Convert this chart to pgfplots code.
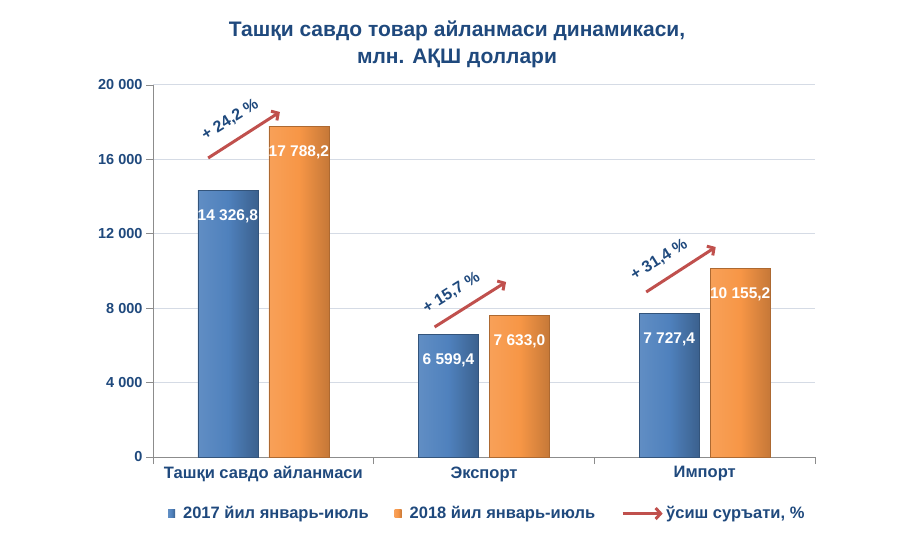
\documentclass[border=0pt]{standalone}
\usepackage{pgfplots}
\pgfplotsset{compat=1.18}
\usepackage{fontspec}
\setmainfont{Liberation Sans}
\usetikzlibrary{arrows.meta}

\definecolor{titleblue}{HTML}{1F497D}
\definecolor{barblue}{HTML}{4F81BD}
\definecolor{barorange}{HTML}{F79646}
\definecolor{arrowred}{HTML}{C0504D}
\definecolor{gridgray}{HTML}{D5DBE5}
\definecolor{axisgray}{HTML}{8C8C8C}

\tikzset{
    growth arrow/.style={arrowred, line width=3pt, -{Straight Barb[length=5pt, width=11pt]}},
}
\pgfplotsset{
    bar2017/.style={ybar, bar width=60pt, bar shift=0pt, draw=barblue!65!black, line width=0.6pt,
        left color=barblue!90!white, right color=barblue!75!black, middle color=barblue,
        nodes near coords, point meta=explicit symbolic,
        legend image code/.code={\path[draw=none] (0pt,0pt) -- (13pt,0pt);
            \fill[barblue, draw=none] (0pt,-4pt) rectangle (7pt,4pt);}},
    bar2018/.style={ybar, bar width=60pt, bar shift=0pt, draw=barorange!70!black, line width=0.6pt,
        left color=barorange!90!white, right color=barorange!80!black, middle color=barorange,
        nodes near coords, point meta=explicit symbolic,
        legend image code/.code={\path[draw=none] (0pt,0pt) -- (13pt,0pt);
            \fill[barorange, draw=none] (0pt,-4pt) rectangle (7pt,4pt);}},
    arrow legend/.style={legend image code/.code={\draw[growth arrow] (0pt,0pt) -- (40pt,0pt);}},
}

\begin{document}
\begin{tikzpicture}
\path (0,0) rectangle (900pt,541pt);
\begin{axis}[
    at={(153pt,84pt)}, anchor=south west,
    scale only axis, width=662pt, height=372pt,
    xmin=-0.5, xmax=2.5, ymin=0, ymax=20000,
    axis x line*=bottom, axis y line*=left,
    axis line style={draw=axisgray, line width=0.8pt},
    xtick={-0.5,0.5,1.5,2.5}, xticklabels={},
    extra x ticks={0,1,2},
    extra x tick labels={Ташқи савдо айланмаси, Экспорт, Импорт},
    extra x tick style={major tick length=0pt, grid=none,
        tick label style={font=\bfseries\fontsize{16.5}{19}\selectfont, text=titleblue, yshift=-6pt}},
    ytick={0,4000,8000,12000,16000,20000},
    yticklabels={0,4 000,8 000,12 000,16 000,20 000},
    scaled y ticks=false,
    ymajorgrids, grid style={gridgray, line width=1pt},
    tick align=outside, major tick length=7pt,
    tick style={axisgray, line width=0.8pt},
    yticklabel style={font=\bfseries\fontsize{14.5}{17}\selectfont, text=titleblue},
    /pgf/number format/assume math mode=true,
    legend columns=3,
    legend cell align=left,
    legend style={at={(0.505,-0.152)}, anchor=center, draw=none, fill=none,
        font=\bfseries\fontsize{16.5}{19}\selectfont, text=titleblue,
        /tikz/every even column/.append style={column sep=24pt}},
    every node near coord/.append style={anchor=north, yshift=-16pt, text=white,
        font=\bfseries\fontsize{15.5}{18}\selectfont},
]
% 2017 (bars set just left of each category centre)
\addplot[bar2017] coordinates {(-0.161,14326.8) [14 326,8]};
\addlegendentry{2017 йил январь-июль}
% 2018 (bars set just right of each category centre)
\addplot[bar2018] coordinates {(0.161,17788.2) [17 788,2]};
\addlegendentry{2018 йил январь-июль}
\addplot[bar2017, forget plot] coordinates {(0.839,6599.4) [6 599,4]};
\addplot[bar2017, forget plot] coordinates {(1.839,7727.4) [7 727,4]};
\addplot[bar2018, forget plot] coordinates {(1.161,7633.0) [7 633,0]};
\addplot[bar2018, forget plot] coordinates {(2.161,10155.2) [10 155,2]};

\addplot[growth arrow, forget plot] coordinates {(-0.25,16075) (0.075,18548)};
\addplot[growth arrow, forget plot] coordinates {(0.776,6989) (1.10,9409)};
\addplot[growth arrow, forget plot] coordinates {(1.735,8871) (2.05,11290)};
\addlegendimage{arrow legend}
\addlegendentry{ўсиш суръати, \%}

\node[rotate=32, font=\bfseries\fontsize{16}{19}\selectfont, text=titleblue]
    at (axis cs:-0.15,18118) {+ 24,2 \%};
\node[rotate=32, font=\bfseries\fontsize{16}{19}\selectfont, text=titleblue]
    at (axis cs:0.853,8817) {+ 15,7 \%};
\node[rotate=32, font=\bfseries\fontsize{16}{19}\selectfont, text=titleblue]
    at (axis cs:1.794,10591) {+ 31,4 \%};
\end{axis}
\node[font=\bfseries\fontsize{21}{27}\selectfont, text=titleblue, align=center]
    at (457pt,497pt) {Ташқи савдо товар айланмаси динамикаси,\\млн. АҚШ доллари};
\end{tikzpicture}
\end{document}
